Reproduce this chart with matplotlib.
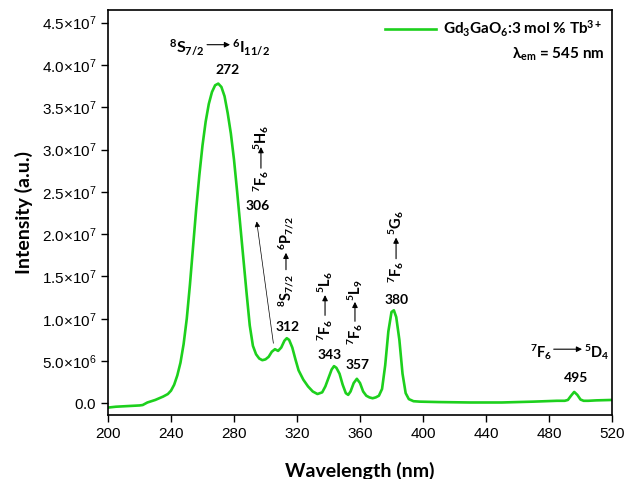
import numpy as np
import matplotlib
matplotlib.use("Agg")
import matplotlib.pyplot as plt

# ----------------------------
# Data
# ----------------------------

wavelength = [200, 205, 210, 215, 220, 222, 225, 230, 235, 238, 240, 242, 244, 246, 248,
              250, 252, 254, 256, 258, 260, 262, 264, 266, 268, 270, 272, 274, 276, 278,
              280, 282, 284, 286, 288, 290, 292, 294, 296, 298, 300, 302, 304, 306, 308,
              310, 312, 313.5, 315, 317, 319, 321, 324, 327, 330, 333, 336, 338, 340, 342,
              343.5, 345, 347, 349, 351, 352.5, 354, 356, 358, 360, 362, 364, 366, 368, 370,
              372, 374, 376, 378, 380, 381.5, 383, 385, 387, 389, 391, 394, 398, 410, 430,
              450, 470, 485, 490, 492, 494, 496, 498, 500, 502, 505, 510, 520]

intensity_e6 = [-0.5, -0.4, -0.35, -0.3, -0.25, -0.2, 0.1, 0.4, 0.8, 1.1, 1.5, 2.2, 3.3, 4.8, 7.0,
                10.0, 14.0, 18.5, 23.0, 27.0, 30.5, 33.3, 35.4, 36.8, 37.6, 37.8, 37.4, 36.3, 34.3, 31.9,
                28.8, 25.0, 21.0, 17.0, 13.0, 9.2, 6.8, 5.8, 5.3, 5.1, 5.2, 5.5, 6.1, 6.4, 6.2,
                6.6, 7.4, 7.7, 7.5, 6.6, 5.2, 3.9, 2.8, 2.0, 1.4, 1.1, 1.3, 2.0, 3.0, 4.0,
                4.4, 4.2, 3.5, 2.2, 1.2, 1.0, 1.4, 2.4, 2.9, 2.4, 1.4, 0.9, 0.7, 0.6, 0.7,
                0.9, 1.7, 4.5, 8.5, 10.8, 11.0, 10.2, 7.5, 3.5, 1.2, 0.5, 0.25, 0.2, 0.15, 0.1,
                0.1, 0.2, 0.3, 0.3, 0.4, 0.9, 1.35, 1.0, 0.45, 0.3, 0.3, 0.35, 0.4]

x_ticks = [200, 240, 280, 320, 360, 400, 440, 480, 520]
y_ticks = [0, 5e6, 1e7, 1.5e7, 2e7, 2.5e7, 3e7, 3.5e7, 4e7, 4.5e7]
y_tick_labels = [r"$\mathsf{0.0}$", r"$\mathsf{5.0{\times}10^{6}}$", r"$\mathsf{1.0{\times}10^{7}}$",
                 r"$\mathsf{1.5{\times}10^{7}}$", r"$\mathsf{2.0{\times}10^{7}}$",
                 r"$\mathsf{2.5{\times}10^{7}}$", r"$\mathsf{3.0{\times}10^{7}}$",
                 r"$\mathsf{3.5{\times}10^{7}}$", r"$\mathsf{4.0{\times}10^{7}}$",
                 r"$\mathsf{4.5{\times}10^{7}}$"]

series_label = r"Gd$_3$GaO$_6$:3 mol % Tb$^{3+}$"


# ----------------------------
# Style
# ----------------------------

plt.rcParams["font.family"] = ["Lato", "DejaVu Sans"]
plt.rcParams["mathtext.fontset"] = "custom"
plt.rcParams["mathtext.rm"] = "Lato:bold"
plt.rcParams["mathtext.it"] = "Lato:bold"
plt.rcParams["mathtext.bf"] = "Lato:bold"
plt.rcParams["mathtext.sf"] = "Liberation Sans"
plt.rcParams["mathtext.default"] = "regular"

green = "#1dd01d"
tick_font = ["Liberation Sans", "DejaVu Sans"]


# ----------------------------
# Plot
# ----------------------------

fig = plt.figure(figsize=(6.28, 4.79), dpi=100)
ax = fig.add_axes([0.172, 0.1336, 0.8025, 0.8455])

y = np.array(intensity_e6) * 1e6
ax.plot(wavelength, y, color=green, lw=1.9, label=series_label)

ax.set_xlim(200, 520)
ax.set_ylim(-1.38e6, 4.65e7)
ax.set_xticks(x_ticks)
ax.set_xticklabels([str(t) for t in x_ticks], family=tick_font, fontsize=11)
ax.set_yticks(y_ticks)
ax.set_yticklabels(y_tick_labels, fontsize=11)
ax.tick_params(direction="out", length=5, width=1.0)
for s in ax.spines.values():
    s.set_linewidth(1.2)

ax.set_xlabel("Wavelength (nm)", fontsize=14, fontweight="bold", labelpad=15)
ax.set_ylabel("Intensity (a.u.)", fontsize=14, fontweight="bold", labelpad=6)

leg = ax.legend(loc="upper right", frameon=False, prop={"weight": "bold", "size": 11},
                handlelength=3.3, handletextpad=0.5, borderaxespad=0.2)
ax.text(0.985, 0.89, r"λ$_{em}$ = 545 nm", transform=ax.transAxes, ha="right", va="center",
        fontsize=11, fontweight="bold")


# ----------------------------
# Annotations
# ----------------------------

arrow = dict(arrowstyle="-|>", color="black", lw=0.8, mutation_scale=8, shrinkA=0, shrinkB=0)
txt = dict(fontweight="bold", color="black")

# 272
ax.text(261.6, 42.1e6, r"$^8$S$_{7/2}$", ha="right", va="center", fontsize=11.5, **txt)
ax.annotate("", xy=(277.5, 42.4e6), xytext=(262.9, 42.4e6), arrowprops=arrow)
ax.text(278.7, 42.1e6, r"$^6$I$_{11/2}$", ha="left", va="center", fontsize=11.5, **txt)
ax.text(276.2, 39.4e6, "272", ha="center", va="center", fontsize=10, **txt)

# rotated transitions: (x, bottom text, y, arrow from, arrow to, top text, y)
def vtrans(x, low, y_low, a0, a1, high, y_high):
    ax.text(x, y_low, low, rotation=90, ha="center", va="top", fontsize=10.5, **txt)
    ax.annotate("", xy=(x, a1), xytext=(x, a0), arrowprops=arrow)
    ax.text(x, y_high, high, rotation=90, ha="center", va="bottom", fontsize=10.5, **txt)

vtrans(297.1, r"$^7$F$_6$", 27.6e6, 27.8e6, 30.3e6, r"$^5$H$_6$", 30.0e6)
ax.text(295.2, 23.3e6, "306", ha="center", va="center", fontsize=10, **txt)
ax.annotate("", xy=(294.4, 21.5e6), xytext=(305.0, 7.1e6),
            arrowprops=dict(arrowstyle="-|>", color="black", lw=0.5, mutation_scale=8,
                            shrinkA=0, shrinkB=0))

vtrans(313.0, r"$^8$S$_{7/2}$", 15.3e6, 15.8e6, 17.8e6, r"$^6$P$_{7/2}$", 18.1e6)
ax.text(314.3, 9.0e6, "312", ha="center", va="center", fontsize=10, **txt)

vtrans(337.8, r"$^7$F$_6$", 10.0e6, 10.4e6, 12.8e6, r"$^5$L$_6$", 13.1e6)
ax.text(341.0, 5.7e6, "343", ha="center", va="center", fontsize=10, **txt)

vtrans(356.8, r"$^7$F$_6$", 9.5e6, 9.7e6, 12.0e6, r"$^5$L$_9$", 12.1e6)
ax.text(358.7, 4.5e6, "357", ha="center", va="center", fontsize=10, **txt)

vtrans(382.9, r"$^7$F$_6$", 16.9e6, 17.1e6, 19.6e6, r"$^5$G$_6$", 19.9e6)
ax.text(383.2, 12.2e6, "380", ha="center", va="center", fontsize=10, **txt)

# 495
ax.text(482.5, 6.1e6, r"$^7$F$_6$", ha="right", va="center", fontsize=10.5, **txt)
ax.annotate("", xy=(501.0, 6.4e6), xytext=(483.0, 6.4e6), arrowprops=arrow)
ax.text(502.5, 6.1e6, r"$^5$D$_4$", ha="left", va="center", fontsize=10.5, **txt)
ax.text(497.1, 3.0e6, "495", ha="center", va="center", fontsize=10, **txt)

fig.savefig("out.png", dpi=100)
